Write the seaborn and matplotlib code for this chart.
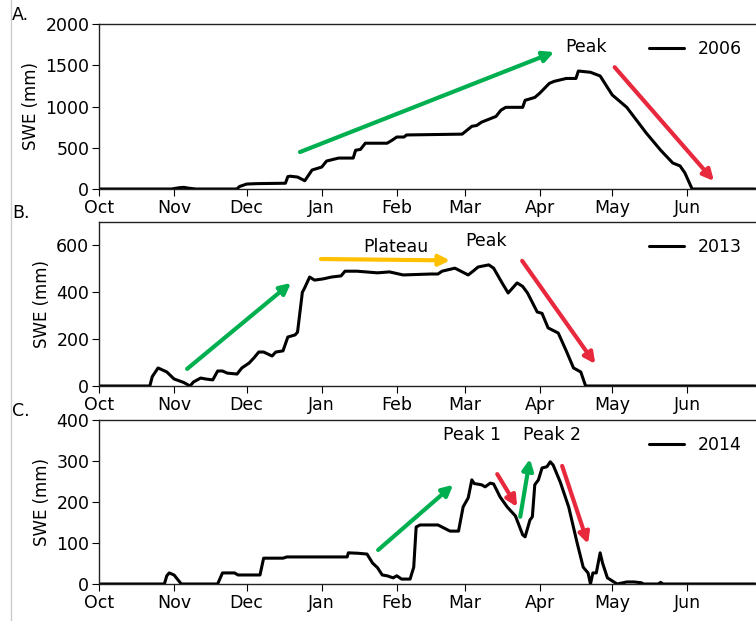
import numpy as np
import pandas as pd
import matplotlib
matplotlib.use("Agg")
import matplotlib.pyplot as plt
from matplotlib.lines import Line2D
import seaborn as sns

# Days since 1 Oct (water year) and SWE (mm)
days_2006 = [0, 30, 33, 35, 37, 40, 57, 58, 61, 65, 77, 78, 79, 82, 85, 88, 92, 94,
             99, 105, 106, 108, 110, 119, 121, 123, 126, 127, 150, 154, 156, 158, 164, 166,
             168, 175, 176, 180, 182, 186, 188, 193, 197, 198, 203, 207, 212, 218, 226, 232,
             237, 240, 242, 245, 271]
swe_2006 = [0, 0, 15, 20, 10, 0, 0, 30, 60, 65, 70, 150, 155, 145, 100, 230, 266, 339,
            375, 375, 470, 480, 555, 555, 590, 630, 630, 655, 665, 760, 770, 810, 880, 955,
            990, 990, 1075, 1110, 1160, 1280, 1305, 1340, 1340, 1430, 1415, 1370, 1140, 990, 680, 470,
            315, 280, 195, 0, 0]

days_2013 = [0, 21, 22, 24.4, 28, 31, 35, 37.6, 39, 42, 44, 47, 49, 51, 53, 57, 59, 62,
             64, 66, 68, 71.5, 73, 76, 78, 81, 82, 84, 85, 87, 89, 92.5, 96, 100, 101.6, 106.6,
             115, 120, 125.6, 137, 140, 141.7, 147, 152.5, 154.5, 156.6, 161, 163, 166.5, 169,
             172.7, 175, 177, 181, 183, 185.5, 189.7, 193, 196, 199, 201, 271]
swe_2013 = [0, 0, 40, 77, 60, 30, 15, 0, 17, 34, 30, 26, 64, 64, 55, 51, 77, 98,
            120, 145, 145, 128, 145, 150, 209, 218, 230, 400, 420, 465, 452, 457, 465, 470, 490, 490,
            483, 487, 474, 478, 478, 490, 503, 474, 490, 508, 517, 503, 440, 397,
            440, 425, 397, 316, 310, 248, 226, 150, 77, 60, 0, 0]

days_2014 = [0, 27, 28, 29, 31, 34, 49, 51, 56, 57.4, 66.5, 68, 76, 77.6, 102.5, 103, 107, 110.7,
             113, 115, 117, 119, 121.5, 123, 125, 128.5, 130, 131, 132.6, 140, 145, 148.5, 150.4,
             152.5, 154, 155, 158, 159.5, 161.6, 163, 165.7, 168.6, 172, 175, 176, 178, 179, 180,
             181.5, 183, 185, 186.4, 187.6, 190.5, 194, 197.5, 200, 202, 203, 204, 205.4, 207, 208,
             210, 214, 218, 221, 224, 225, 231, 232, 233, 271]
swe_2014 = [0, 0, 20, 27, 22, 0, 0, 27, 27, 22, 22, 63, 63, 66, 66, 76, 75, 73,
            51, 40, 22, 20, 15, 20, 12, 12, 41, 139, 144, 144, 129, 129, 188,
            210, 254, 245, 242, 237, 246, 244, 212, 188, 166, 120, 115, 156, 164, 242,
            254, 283, 286, 298, 290, 249, 188, 100, 41, 27, 0, 27, 27, 76, 51,
            15, 0, 5, 5, 3, 0, 0, 4, 0, 0]

years = ["2006", "2013", "2014"]
panel_labels = ["A.", "B.", "C."]
y_limits = [(0, 2000), (0, 700), (0, 400)]
y_ticks = [[0, 500, 1000, 1500, 2000], [0, 200, 400, 600], [0, 100, 200, 300, 400]]

month_starts = pd.date_range("2005-10-01", "2006-06-01", freq="MS")
month_days = list((month_starts - pd.Timestamp("2005-10-01")).days)
month_labels = [d.strftime("%b") for d in month_starts]

GREEN = "#00B050"
RED = "#E8283C"
YELLOW = "#FFC000"

# arrows per panel: (start day, start swe, end day, end swe, colour)
arrows = [
    [(83, 448, 188, 1660, GREEN), (213, 1476, 254, 97, RED)],
    [(36.4, 73, 79.3, 440, GREEN), (91.7, 542, 145, 536, YELLOW), (174.8, 534, 205, 94, RED)],
    [(115.3, 83, 146.3, 242, GREEN), (164.5, 268, 172.7, 188, RED),
     (174, 164, 178, 305, GREEN), (191.3, 288, 202, 98, RED)],
]
# notes per panel: (day, swe, text)
notes = [
    [(201, 1718, "Peak")],
    [(122.7, 594, "Plateau"), (160, 619, "Peak")],
    [(154, 363, "Peak 1"), (187, 363, "Peak 2")],
]

sns.set_style("ticks")
plt.rcParams["font.family"] = ["DejaVu Sans"]
plt.rcParams.update({"text.color": "black", "axes.labelcolor": "black",
                     "xtick.color": "black", "ytick.color": "black",
                     "axes.edgecolor": "#222222"})

fig = plt.figure(figsize=(7.56, 6.21), dpi=100)
W, H = 756, 621
tops = [24, 222, 420]
bottoms = [189, 386, 584]

series = [(days_2006, swe_2006), (days_2013, swe_2013), (days_2014, swe_2014)]

for i, (d, v) in enumerate(series):
    ax = fig.add_axes([99 / W, 1 - bottoms[i] / H, 1 - 99 / W + 0.002, (bottoms[i] - tops[i]) / H])
    df = pd.DataFrame({"day": d, "swe": v})
    sns.lineplot(data=df, x="day", y="swe", color="black", lw=2.2, label=years[i], ax=ax)

    for (x0, y0, x1, y1, c) in arrows[i]:
        ax.annotate("", xy=(x1, y1), xytext=(x0, y0),
                    arrowprops=dict(arrowstyle="-|>", lw=3, color=c, mutation_scale=16,
                                    shrinkA=0, shrinkB=0))
    for (x, y, t) in notes[i]:
        ax.text(x, y, t, ha="center", va="center", fontsize=12.5)

    ax.set_xlim(0, 272)
    ax.set_ylim(*y_limits[i])
    ax.set_yticks(y_ticks[i])
    ax.set_xticks(month_days)
    ax.set_xticklabels(month_labels)
    ax.tick_params(labelsize=12.5, length=5, pad=2)
    ax.set_xlabel("")
    ax.set_ylabel("SWE (mm)", fontsize=12)
    for s in ax.spines.values():
        s.set_visible(True)
        s.set_linewidth(1.0)
    ax.legend(loc="upper right", frameon=False, fontsize=12.5)

    fig.text(12 / W, 1 - (tops[i] - 9) / H, panel_labels[i], ha="left", va="center", fontsize=12.5)

# thin grey border on the left edge, as in the source image
fig.add_artist(Line2D([11 / W, 11 / W], [0, 1], color="#cccccc", lw=1))

plt.savefig("out.png", dpi=100, facecolor="white")
plt.close()
